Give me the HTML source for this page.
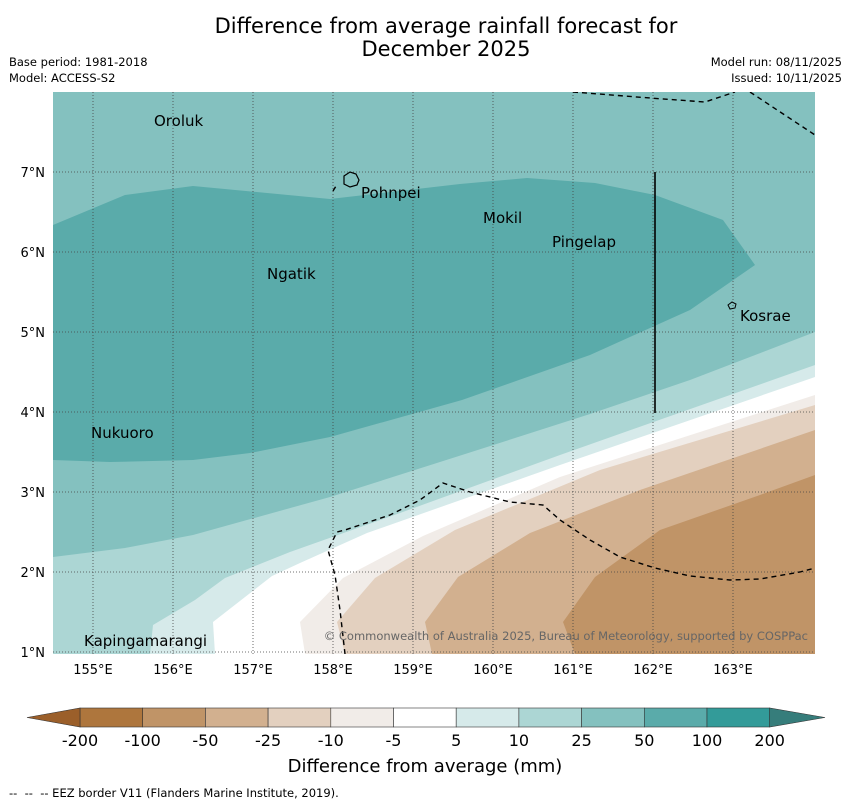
<!DOCTYPE html>
<html><head><meta charset="utf-8"><style>
body{margin:0;background:#fff;font-family:"Liberation Sans","DejaVu Sans",sans-serif}
svg text{font-family:"DejaVu Sans","Liberation Sans",sans-serif}
</style></head><body>
<svg width="850" height="804" viewBox="0 0 850 804" xmlns="http://www.w3.org/2000/svg">
<text x="446" y="33" font-size="21" text-anchor="middle">Difference from average rainfall forecast for</text>
<text x="446" y="56" font-size="21" text-anchor="middle">December 2025</text>
<text x="9" y="66" font-size="11.5">Base period: 1981-2018</text>
<text x="9" y="82" font-size="11.5">Model: ACCESS-S2</text>
<text x="842" y="66" font-size="11.5" text-anchor="end">Model run: 08/11/2025</text>
<text x="842" y="82" font-size="11.5" text-anchor="end">Issued: 10/11/2025</text>
<defs><clipPath id="mc"><rect x="53" y="92" width="762" height="562"/></clipPath></defs>
<g clip-path="url(#mc)">
<rect x="53" y="92" width="762" height="562" fill="#84c1bf"/>
<polygon fill="#5aabaa" points="53,225 125,195 193,186 330,199 460,184 527,178 595,183 655,195 723,220 755,265 690,310 590,355 462,400 330,437 250,453 193,460 110,462 53,460"/>
<polygon fill="#acd6d4" points="53,557 125,548 193,535 330,497 462,455 590,414 690,380 815,332 815,654 53,654"/>
<polygon fill="#d6eaea" points="150,654 153,625 195,600 225,578 290,552 400,513 560,455 815,365 815,654"/>
<polygon fill="#ffffff" points="215,654 213,622 272,576 300,563 367,533 560,465 815,377 815,654"/>
<polygon fill="#f1ece8" points="305,654 300,622 343,578 423,536 560,477 815,395 815,654"/>
<polygon fill="#e3d0bf" points="345,654 337,622 375,578 455,530 600,470 815,405 815,654"/>
<polygon fill="#d2b08f" points="432,654 425,622 458,577 530,533 640,490 815,430 815,654"/>
<polygon fill="#c09467" points="575,654 563,622 595,577 660,530 760,495 815,475 815,654"/>
<g id="grid" stroke="#444" stroke-width="0.8" stroke-dasharray="1,2" fill="none"></g>
<g stroke="#000" stroke-width="1.4" stroke-dasharray="5,4" fill="none">
<polyline points="573,92 650,98 705,102 735,92"/>
<polyline points="750,92 815,135"/>
<polyline points="333,191 336,186"/>
<polyline points="345,654 340,610 335,575 328,550 337,532 345,530 390,515 420,500 443,483 470,492 510,502 543,505 560,520 590,540 620,557 655,568 690,576 730,580 760,579 800,572 815,568"/>
</g>
<line x1="655" y1="172" x2="655" y2="413" stroke="#000" stroke-width="1.6"/>
<path d="M344,176 l6,-4 l6,2 l3,6 l-2,5 l-7,2 l-6,-3 z" fill="none" stroke="#000" stroke-width="1.2"/>
<path d="M728,305 l4,-3 l4,2 l-1,4 l-5,1 z" fill="none" stroke="#000" stroke-width="1"/>
<g font-size="15" fill="#000">
<text x="154" y="126">Oroluk</text>
<text x="361" y="198">Pohnpei</text>
<text x="483" y="223">Mokil</text>
<text x="552" y="247">Pingelap</text>
<text x="267" y="279">Ngatik</text>
<text x="740" y="321">Kosrae</text>
<text x="91" y="438">Nukuoro</text>
<text x="84" y="646">Kapingamarangi</text>
</g>
<text x="808" y="640" font-size="11.5" fill="#666" text-anchor="end">© Commonwealth of Australia 2025, Bureau of Meteorology, supported by COSPPac</text>
</g>
<g id="axes" font-size="13"></g>
<g id="cbar"></g>
<text x="425" y="772" font-size="18" text-anchor="middle">Difference from average (mm)</text>
<text x="9" y="797" font-size="11.5" xml:space="preserve">--  --  -- EEZ border V11 (Flanders Marine Institute, 2019).</text>
</svg>
<script>
const lonTicks=[155,156,157,158,159,160,161,162,163];
const latTicks=[1,2,3,4,5,6,7];
const cbLabels=["-200","-100","-50","-25","-10","-5","5","10","25","50","100","200"];
const cbColors=["#ae763d","#c09467","#d2b08f","#e3d0bf","#f1ece8","#ffffff","#d6eaea","#acd6d4","#84c1bf","#5aabaa","#339b99"];
const NS="http://www.w3.org/2000/svg";
const xl=lon=>93+(lon-155)*80, yl=lat=>652-(lat-1)*80;
function mk(t,a,p){const e=document.createElementNS(NS,t);for(const k in a)e.setAttribute(k,a[k]);p.appendChild(e);return e;}
const g=document.getElementById('grid'),ax=document.getElementById('axes');
lonTicks.forEach(l=>{const ln=mk('line',{x1:xl(l),x2:xl(l),y1:92,y2:654},g);


const t=mk('text',{x:xl(l),y:674,'text-anchor':'middle'},ax);t.textContent=l+'°E';

});
latTicks.forEach(l=>{const ln=mk('line',{x1:53,x2:815,y1:yl(l),y2:yl(l)},g);


const t=mk('text',{x:45,y:yl(l)+5,'text-anchor':'end'},ax);t.textContent=l+'°N';

});
const cb=document.getElementById('cbar');const x0=80,w=62.7,y0=708,h=19;
cbColors.forEach((c,i)=>{const r=mk('rect',{x:x0+i*w,y:y0,width:w,height:h,fill:c,stroke:'#333','stroke-width':0.6},cb);

});
const lt=mk('polygon',{points:`${x0},${y0} ${x0},${y0+h} 27,${y0+h/2}`,fill:'#9b5f2a',stroke:'#333','stroke-width':0.6},cb);


const xe=x0+cbColors.length*w;
const rt=mk('polygon',{points:`${xe},${y0} ${xe},${y0+h} 825,${y0+h/2}`,fill:'#367d7b',stroke:'#333','stroke-width':0.6},cb);


cbLabels.forEach((s,i)=>{const t=mk('text',{x:x0+i*w,y:746,'text-anchor':'middle','font-size':16},cb);t.textContent=s;

});
</script>
</body></html>
